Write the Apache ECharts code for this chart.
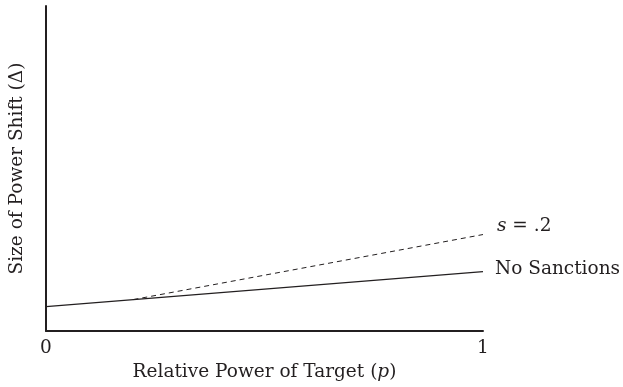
<!DOCTYPE html>
<html>
<head>
<meta charset="utf-8">
<script src="https://cdn.jsdelivr.net/npm/echarts@6/dist/echarts.min.js"></script>
<style>html,body{margin:0;padding:0;background:#fff}#c{width:623px;height:387px}</style>
</head>
<body>
<div id="c"></div>
<script>
var xTicks = [0, 1];
var noSanctionsX = [0, 1];
var noSanctionsY = [0.075, 0.183];
var s2X = [0.2, 1];
var s2Y = [0.097, 0.297];
var seriesNames = ['No Sanctions', 's = .2'];

var FONT = 'DejaVu Serif';
var FS = 18.5;
var INK = '#231f20';
var chart = echarts.init(document.getElementById('c'), null, {renderer: 'canvas'});

function pairs(xs, ys) { return xs.map(function (x, i) { return [x, ys[i]]; }); }

chart.setOption({
  animation: false,
  backgroundColor: '#fff',
  grid: {left: 46, right: 140, top: 6, bottom: 54},
  xAxis: {
    type: 'value', min: 0, max: 1, interval: 1,
    axisLine: {show: true, lineStyle: {color: INK, width: 2}},
    axisTick: {show: false},
    splitLine: {show: false},
    axisLabel: {
      color: INK, fontFamily: FONT, fontSize: FS, margin: 8,
      formatter: function (v) { return xTicks.indexOf(v) >= 0 ? String(v) : ''; }
    },
    name: '{n|Relative Power of Target (}{i|p}{n|)}',
    nameLocation: 'middle', nameGap: 31,
    nameTextStyle: {
      rich: {
        n: {fontFamily: FONT, fontSize: FS, color: INK},
        i: {fontFamily: FONT, fontSize: FS, color: INK, fontStyle: 'italic'}
      }
    }
  },
  yAxis: {
    type: 'value', min: 0, max: 1,
    axisLine: {show: true, lineStyle: {color: INK, width: 2}},
    axisTick: {show: false},
    splitLine: {show: false},
    axisLabel: {show: false},
    name: 'Size of Power Shift (Δ)',
    nameLocation: 'middle', nameGap: 19,
    nameTextStyle: {fontFamily: FONT, fontSize: FS, color: INK}
  },
  series: [
    {
      name: seriesNames[0], type: 'line', symbol: 'none',
      data: pairs(noSanctionsX, noSanctionsY),
      lineStyle: {color: INK, width: 1.2},
      endLabel: {
        show: true, distance: 12, offset: [0, -2], color: INK, fontFamily: FONT, fontSize: FS,
        formatter: function () { return seriesNames[0]; }
      }
    },
    {
      name: seriesNames[1], type: 'line', symbol: 'none',
      data: pairs(s2X, s2Y),
      lineStyle: {color: INK, width: 1, type: [5, 4]},
      endLabel: {
        show: true, distance: 14, offset: [0, -8],
        formatter: '{i|s}{n| = .2}',
        rich: {
          n: {fontFamily: FONT, fontSize: FS, color: INK},
          i: {fontFamily: FONT, fontSize: FS, color: INK, fontStyle: 'italic'}
        }
      }
    }
  ]
});
</script>
</body>
</html>
